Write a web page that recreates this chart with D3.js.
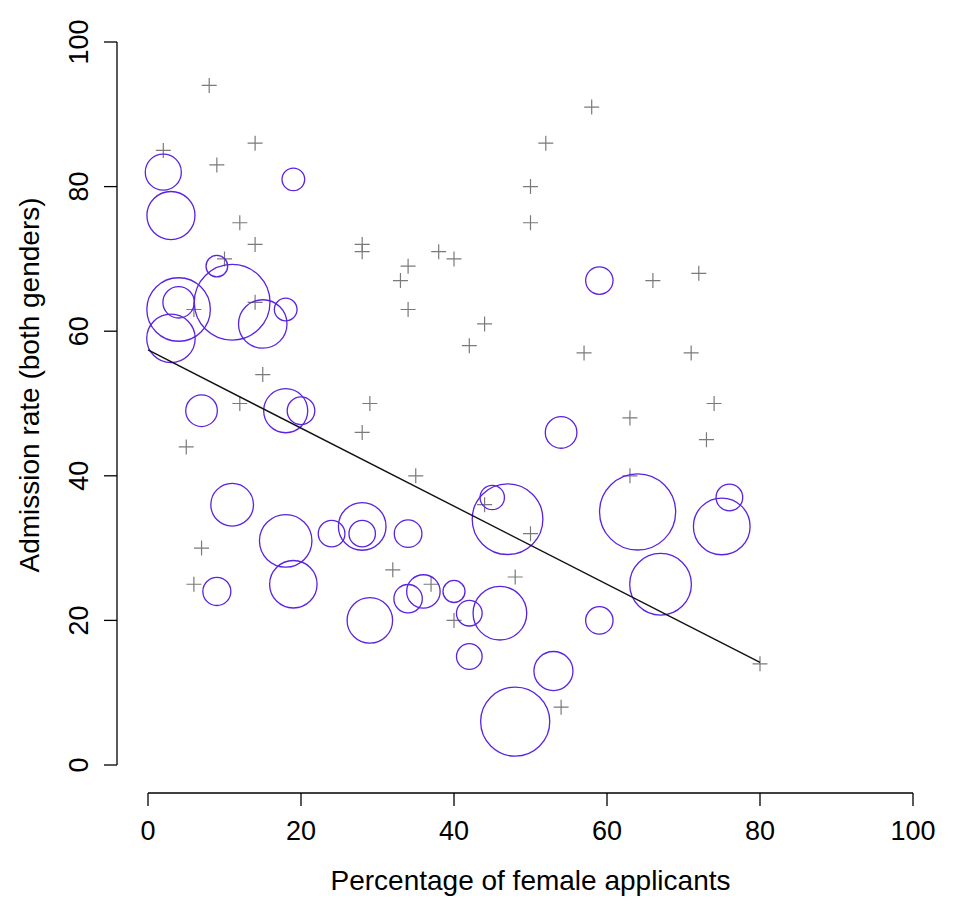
<!DOCTYPE html>
<html>
  <head>
    <meta charset='utf-8'>
    <script src='https://d3js.org/d3.v7.min.js'></script>
    <style type='text/css'>
      body { margin: 0; background: #fff; }
      text { font-family: 'Liberation Sans', Arial, Helvetica, sans-serif; fill: #000; }
      .tick-label { font-size: 27px; }
      .axis-title { font-size: 28px; }
    </style>
  </head>
  <body>
    <script type='text/javascript'>
      // departments drawn as circles (size ~ number of applicants)
      var circleFemale = [2, 3, 19, 9, 4, 4, 11, 15, 18, 3, 59, 7, 18, 20, 11, 18, 24, 28, 28, 34,
                          19, 9, 29, 34, 36, 45, 47, 54, 64, 76, 75, 67, 40, 42, 46, 59, 42, 53, 48],
          circleAdmit = [82, 76, 81, 69, 63, 64, 64, 61, 63, 59, 67, 49, 49, 49, 36, 31, 32, 33, 32, 32,
                         25, 24, 20, 23, 24, 37, 34, 46, 35, 37, 33, 25, 24, 21, 21, 20, 15, 13, 6],
          circleApplicants = [225, 400, 89, 81, 698, 171, 992, 407, 89, 407, 130, 173, 336, 132, 315, 477, 123, 393, 121, 132,
                              390, 136, 358, 140, 194, 103, 865, 173, 1003, 123, 556, 659, 84, 114, 499, 130, 114, 264, 827];

      // departments drawn as plus signs
      var plusFemale = [8, 2, 14, 9, 12, 14, 10, 28, 28, 38, 34, 33, 34, 14, 6, 15, 58, 52, 50, 50,
                        40, 44, 42, 66, 72, 57, 71, 12, 29, 28, 5, 35, 7, 32, 6, 37, 74, 63, 73, 63,
                        44, 50, 48, 40, 54, 80],
          plusAdmit = [94, 85, 86, 83, 75, 72, 70, 72, 71, 71, 69, 67, 63, 64, 63, 54, 91, 86, 80, 75,
                       70, 61, 58, 67, 68, 57, 57, 50, 50, 46, 44, 40, 30, 27, 25, 25, 50, 48, 45, 40,
                       36, 32, 26, 20, 8, 14];

      // fitted line
      var fitIntercept = 57.4,
          fitSlope = -0.54,
          fitRange = [0, 80];

      var xTicks = [0, 20, 40, 60, 80, 100],
          yTicks = [0, 20, 40, 60, 80, 100],
          xTitle = 'Percentage of female applicants',
          yTitle = 'Admission rate (both genders)';
    </script>
    <script type='text/javascript'>
      var w = 962,
          h = 924,
          axisX = 117,   // y axis line position
          axisY = 793,   // x axis line position
          tickLen = 13;

      var svg = d3.select('body')
        .append('svg')
        .attr('width', w)
        .attr('height', h);

      var x = d3.scaleLinear().domain([0, 100]).range([148, 913]);
      var y = d3.scaleLinear().domain([0, 100]).range([765, 42]);
      var r = d3.scaleSqrt().domain([0, 1000]).range([0, 38]);

      //Y axis
      svg.append('line')
        .attr('x1', axisX).attr('x2', axisX)
        .attr('y1', y(0)).attr('y2', y(100))
        .attr('stroke', '#000').attr('stroke-width', 1.3);
      svg.selectAll('yTicks').data(yTicks).enter().append('line')
        .attr('x1', axisX - tickLen).attr('x2', axisX)
        .attr('y1', function(d) { return y(d); })
        .attr('y2', function(d) { return y(d); })
        .attr('stroke', '#000').attr('stroke-width', 1.3);
      svg.selectAll('yLabels').data(yTicks).enter().append('text')
        .attr('class', 'tick-label')
        .attr('text-anchor', 'middle')
        .attr('transform', function(d) { return 'translate(88,' + y(d) + ') rotate(-90)'; })
        .text(function(d) { return d; });

      //X axis
      svg.append('line')
        .attr('x1', x(0)).attr('x2', x(100))
        .attr('y1', axisY).attr('y2', axisY)
        .attr('stroke', '#000').attr('stroke-width', 1.3);
      svg.selectAll('xTicks').data(xTicks).enter().append('line')
        .attr('x1', function(d) { return x(d); })
        .attr('x2', function(d) { return x(d); })
        .attr('y1', axisY).attr('y2', axisY + tickLen)
        .attr('stroke', '#000').attr('stroke-width', 1.3);
      svg.selectAll('xLabels').data(xTicks).enter().append('text')
        .attr('class', 'tick-label')
        .attr('text-anchor', 'middle')
        .attr('x', function(d) { return x(d); })
        .attr('y', 840)
        .text(function(d) { return d; });

      //Axis titles
      svg.append('text')
        .attr('class', 'axis-title')
        .attr('text-anchor', 'middle')
        .attr('x', (x(0) + x(100)) / 2)
        .attr('y', 890)
        .text(xTitle);
      svg.append('text')
        .attr('class', 'axis-title')
        .attr('text-anchor', 'middle')
        .attr('transform', 'translate(39,385) rotate(-90)')
        .text(yTitle);

      //Plus signs
      var plusData = plusFemale.map(function(d, i) { return {f: d, a: plusAdmit[i]}; });
      var arm = 7.5;
      svg.selectAll('pluses').data(plusData).enter().append('path')
        .attr('d', function(d) {
          var cx = x(d.f), cy = y(d.a);
          return 'M' + (cx - arm) + ',' + cy + 'H' + (cx + arm) +
                 'M' + cx + ',' + (cy - arm) + 'V' + (cy + arm);
        })
        .attr('stroke', '#7a7a7a')
        .attr('stroke-width', 1.2)
        .attr('fill', 'none');

      //Circles
      var circleData = circleFemale.map(function(d, i) {
        return {f: d, a: circleAdmit[i], n: circleApplicants[i]};
      });
      svg.selectAll('bubbles').data(circleData).enter().append('circle')
        .attr('cx', function(d) { return x(d.f); })
        .attr('cy', function(d) { return y(d.a); })
        .attr('r', function(d) { return r(d.n); })
        .attr('fill', 'none')
        .attr('stroke', '#5a22e2')
        .attr('stroke-width', 1.3);

      //Fitted line
      svg.append('line')
        .attr('x1', x(fitRange[0]))
        .attr('y1', y(fitIntercept + fitSlope * fitRange[0]))
        .attr('x2', x(fitRange[1]))
        .attr('y2', y(fitIntercept + fitSlope * fitRange[1]))
        .attr('stroke', '#111')
        .attr('stroke-width', 1.4);
    </script>
  </body>
</html>
